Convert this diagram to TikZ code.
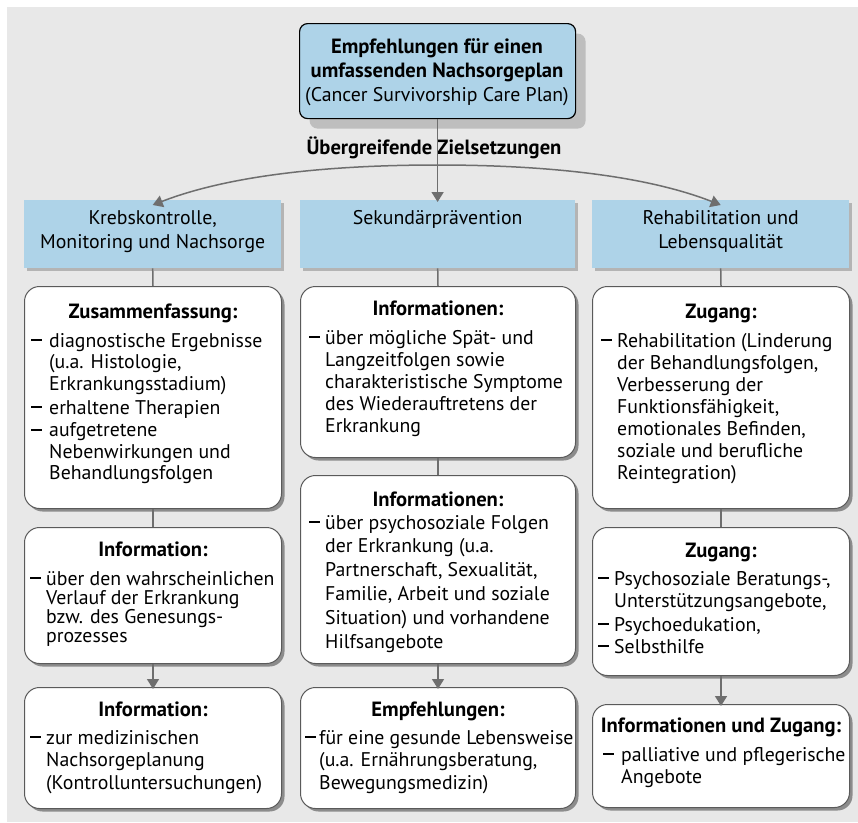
\documentclass[tikz,border=0pt]{standalone}
\usepackage{fontspec}
\setmainfont{PT Sans}
\usetikzlibrary{arrows.meta,shadows}
\definecolor{bggray}{HTML}{E8E8E8}
\definecolor{lblue}{HTML}{AED3E8}
\definecolor{lgray}{HTML}{6E6E6E}
\definecolor{bdgray}{HTML}{5A5A5A}
\definecolor{shdark}{HTML}{8C8C8C}
\definecolor{shlight}{HTML}{B4B4B4}
\definecolor{shtop}{HTML}{BEBEBE}
\newlength\hi
\newcommand\itm[1]{\par\hangindent=\hi\hangafter=1\noindent\makebox[\hi][l]{\rule[0.3em]{11pt}{1.8pt}}#1}
\newcommand\fsz{19.8}
\newcommand\bsz{20.6}
\newcommand\items[3]{% hangindent, baselineskip, content
\begin{minipage}[t]{320pt}\setlength\hi{#1pt}\fontsize{\fsz}{#2}\selectfont\raggedright\let\\\newline
\itm#3\end{minipage}}
\begin{document}
\begin{tikzpicture}[x=1pt,y=-1pt,
  topbox/.style={draw=black,line width=1.2pt,fill=lblue,rounded corners=8pt,
    drop shadow={shadow xshift=10pt,shadow yshift=-10pt,fill=shtop,opacity=1},anchor=north west,inner sep=0pt},
  catbox/.style={fill=lblue,draw=none,
    drop shadow={shadow xshift=3pt,shadow yshift=-3pt,fill=shlight,opacity=1},anchor=north west,inner sep=0pt},
  wbox/.style={draw=bdgray,line width=1pt,fill=white,rounded corners=15pt,
    drop shadow={shadow xshift=3pt,shadow yshift=-3pt,fill=shdark,opacity=1},anchor=north west,inner sep=0pt},
  conn/.style={draw=lgray,line width=1.5pt},
  arr/.style={conn,-{Triangle[width=12pt,length=10pt]}},
  ttl/.style={anchor=base,inner sep=0pt,font=\fontsize{\bsz}{22}\selectfont\bfseries},
  txt/.style={anchor=base west,inner sep=0pt},
  cattxt/.style={anchor=base,inner sep=0pt,align=center,font=\fontsize{\fsz}{24}\selectfont}
]
\useasboundingbox (0,0) rectangle (858,822);
\fill[bggray] (7,7) rectangle (858,822);

% top box
\node[topbox,minimum width=276pt,minimum height=95pt] (TB) at (299,23) {};
\node[anchor=base,inner sep=0pt,align=center,font=\fontsize{\fsz}{24}\selectfont] (TBt) at (437,101)
  {{\fontsize{\bsz}{24}\selectfont\bfseries Empfehlungen für einen}\\{\fontsize{\bsz}{24}\selectfont\bfseries umfassenden Nachsorgeplan}\\(Cancer Survivorship Care Plan)};

% category boxes
\node[catbox,minimum width=257pt,minimum height=68pt] (C1) at (24,200) {};
\node[catbox,minimum width=275pt,minimum height=68pt] (C2) at (300,200) {};
\node[catbox,minimum width=257pt,minimum height=68pt] (C3) at (592,200) {};
\node[cattxt] (C1t) at (C1.north |- 0,248) {Krebskontrolle,\\Monitoring und Nachsorge};
\node[cattxt] (C2t) at (C2.north |- 0,224) {Sekundärprävention};
\node[cattxt] (C3t) at (C3.north |- 0,248) {Rehabilitation und\\Lebensqualität};

% label
\node[ttl] (lab) at (434,154) {Übergreifende Zielsetzungen};

% white boxes
\node[wbox,minimum width=257pt,minimum height=222pt] (L1) at (24,286) {};
\node[wbox,minimum width=257pt,minimum height=136pt] (L2) at (24,527) {};
\node[wbox,minimum width=257pt,minimum height=121pt] (L3) at (24,687) {};
\node[wbox,minimum width=275pt,minimum height=171pt] (M1) at (300,286) {};
\node[wbox,minimum width=275pt,minimum height=188pt] (M2) at (300,475) {};
\node[wbox,minimum width=275pt,minimum height=121pt] (M3) at (300,687) {};
\node[wbox,minimum width=257pt,minimum height=222pt] (R1) at (592,286) {};
\node[wbox,minimum width=257pt,minimum height=148pt] (R2) at (592,527) {};
\node[wbox,minimum width=257pt,minimum height=103pt] (R3) at (592,704) {};

% titles
\node[ttl] (L1h) at (L1.north |- 0,318.5) {Zusammenfassung:};
\node[ttl] (L2h) at (L2.north |- 0,556.5) {Information:};
\node[ttl] (L3h) at (L3.north |- 0,716.5) {Information:};
\node[ttl] (M1h) at (M1.north |- 0,315.5) {Informationen:};
\node[ttl] (M2h) at (M2.north |- 0,506.5) {Informationen:};
\node[ttl] (M3h) at (M3.north |- 0,716.5) {Empfehlungen:};
\node[ttl] (R1h) at (R1.north |- 0,318.5) {Zugang:};
\node[ttl] (R2h) at (R2.north |- 0,557.5) {Zugang:};
\node[ttl] (R3h) at (R3.north |- 0,732.5) {Informationen und Zugang:};

% items
\node[txt] (L1i) at (31,347) {\items{18}{21.5pt}{{diagnostische Ergebnisse\\(u.a. Histologie,\\Erkrankungsstadium)}\vspace{2.5pt}\itm{erhaltene Therapien}\vspace{1pt}\itm{aufgetretene\\Nebenwirkungen und\\Behandlungsfolgen}}};
\node[txt] (L2i) at (30,585) {\items{16}{19.3pt}{{über den wahrscheinlichen\\Verlauf der Erkrankung\\bzw. des Genesungs-\\prozesses}}};
\node[txt] (L3i) at (30,744) {\items{16}{22.5pt}{{zur medizinischen\\Nachsorgeplanung\\(Kontrolluntersuchungen)}}};
\node[txt] (M1i) at (309,344) {\items{16}{22.2pt}{{über mögliche Spät- und\\Langzeitfolgen sowie\\charakteristische Symptome\\des Wiederauftretens der\\Erkrankung}}};
\node[txt] (M2i) at (309,529) {\items{16}{23.8pt}{{über psychosoziale Folgen\\der Erkrankung (u.a.\\Partnerschaft, Sexualität,\\Familie, Arbeit und soziale\\Situation) und vorhandene\\Hilfsangebote}}};
\node[txt] (M3i) at (305,744) {\items{14}{22.5pt}{{für eine gesunde Lebensweise\\(u.a. Ernährungsberatung,\\Bewegungsmedizin)}}};
\node[txt] (R1i) at (601,347) {\items{16}{22pt}{{Rehabilitation (Linderung\\der Behandlungsfolgen,\\Verbesserung der\\Funktionsfähigkeit,\\emotionales Befinden,\\soziale und berufliche\\Reintegration)}}};
\node[txt] (R2i) at (598,585) {\items{16}{22pt}{{Psychosoziale Beratungs-,\\Unterstützungsangebote,}\vspace{2pt}\itm{Psychoedukation,}\itm{Selbsthilfe}}};
\node[txt] (R3i) at (603,761) {\items{18}{22pt}{{palliative und pflegerische\\Angebote}}};

% connectors
\coordinate (apex) at (TB.south |- 0,165);
\draw[arr] (TB.south) -- ([yshift=-2pt]TB.south |- C2.north);
\draw[arr] (apex) .. controls (330,165) and (230,175) .. ([yshift=-5pt]C1.north);
\draw[arr] (apex) .. controls (544,165) and (644,175) .. ([yshift=-5pt]C3.north);
\draw[conn] (C1.south) -- (L1.north);
\draw[conn] (C2.south) -- (M1.north);
\draw[conn] (C3.south) -- (R1.north);
\draw[conn] (L1.south) -- (L2.north);
\draw[conn] (M1.south) -- (M2.north);
\draw[conn] (R1.south) -- (R2.north);
\draw[arr] (L2.south) -- ([yshift=-2pt]L3.north);
\draw[arr] (M2.south) -- ([yshift=-2pt]M3.north);
\draw[arr] (R2.south) -- ([yshift=-2pt]R3.north);
\end{tikzpicture}
\end{document}
